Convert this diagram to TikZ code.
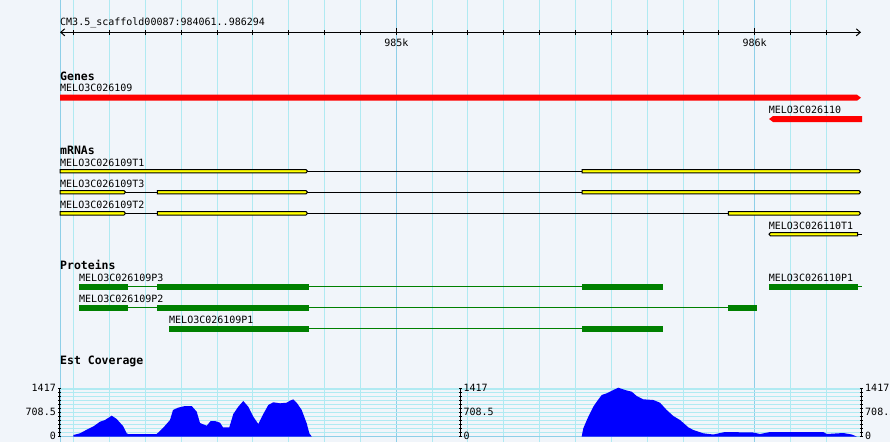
\documentclass[tikz,border=0pt]{standalone}
\usepackage{fontspec}
\usepackage{tikz}
\usetikzlibrary{arrows.meta}
\newfontfamily\gbmono{DejaVu Sans Mono}
\definecolor{gbback}{HTML}{F1F5FA}
\definecolor{gbgrid}{HTML}{B0EAF2}
\definecolor{gbmajor}{HTML}{8ECFE8}
\definecolor{gbgreen}{HTML}{008000}
\definecolor{gbblue}{HTML}{0000FF}
\definecolor{gbred}{HTML}{FF0000}
\definecolor{gbyellow}{HTML}{FFFF00}
\newcommand{\fexon}[3]{\filldraw[mrna] (#1,#3-1.7) -- (#2,#3-1.7) -- (#2+1.5,#3) -- (#2,#3+1.7) -- (#1,#3+1.7) -- cycle;}
\newcommand{\rexon}[3]{\filldraw[mrna] (#1+1.5,#3-1.7) -- (#2,#3-1.7) -- (#2,#3+1.7) -- (#1+1.5,#3+1.7) -- (#1,#3) -- cycle;}
\newcommand{\cds}[3]{\fill[prot] (#1,#3-2.85) rectangle (#2,#3+2.85);}

\begin{document}
\begin{tikzpicture}[x=1pt,y=-1pt,
    lbl/.style={font=\gbmono\fontsize{10}{10}\selectfont,inner sep=0pt,anchor=base west},
    trk/.style={font=\gbmono\bfseries\fontsize{11.5}{12}\selectfont,inner sep=0pt,anchor=base west},
    num/.style={font=\gbmono\fontsize{10}{10}\selectfont,inner sep=0pt},
    vgrid/.style={draw=gbgrid,line width=1pt},
    vmajor/.style={draw=gbmajor,line width=1pt},
    ruler/.style={draw=black,line width=1pt,<->,>={Straight Barb[length=4pt,width=7pt]}},
    tickmark/.style={draw=black,line width=1pt},
    gene/.style={fill=gbred},
    mrna/.style={fill=gbyellow,draw=black,line width=1pt},
    intron/.style={draw=black,line width=1pt},
    prot/.style={fill=gbgreen},
    link/.style={draw=gbgreen,line width=1pt},
    cov/.style={fill=gbblue},
    axisline/.style={draw=black,line width=1pt}]
  \fill[gbback] (0,0) rectangle (890,442);
  \useasboundingbox (0,0) rectangle (890,442);
  \foreach \k in {-9,...,12}
    \draw[vgrid] (396.3+35.84*\k,0) -- (396.3+35.84*\k,442);
  \foreach \x in {60,396.3,754.7}
    \draw[vmajor] (\x,0) -- (\x,442);
  \foreach \y in {392,396,...,432}
    \draw[vgrid] (60,\y) -- (861,\y);
  \draw[vgrid,line width=2pt] (60,388.7) -- (861,388.7);
  \draw[vmajor] (60,436.5) -- (861,436.5);

  \node[lbl]                (scaf)  at (60,25.5)    {CM3.5\_scaffold00087:984061..986294};
  \coordinate               (rl)    at (60,32.3);
  \coordinate               (rr)    at (861,32.3);
  \draw[ruler] (rl) -- (rr);
  \foreach \k in {-9,...,12}
    \draw[tickmark] (396.3+35.84*\k,30.3) -- (396.3+35.84*\k,34.8);
  \draw[tickmark] (396.3,28) -- (396.3,34.8);
  \draw[tickmark] (754.7,28) -- (754.7,34.8);
  \node[lbl,anchor=base]    (k985)  at (396.3,46.5) {985k};
  \node[lbl,anchor=base]    (k986)  at (754.7,46.5) {986k};

  \node[trk]                (genes) at (60,80)      {Genes};
  \node[lbl]                (g109)  at (60,91.7)    {MELO3C026109};
  \node[lbl]                (g110)  at (768.7,113)  {MELO3C026110};
  \fill[gene] (60,94.7) -- (857,94.7) -- (861,97.7) -- (857,100.7) -- (60,100.7) -- cycle;
  \fill[gene] (773,116) -- (862,116) -- (862,122) -- (773,122) -- (769,119) -- cycle;

  \node[trk]                (mrnas) at (60,154.3)   {mRNAs};
  \node[lbl]                (t1)    at (60,166)     {MELO3C026109T1};
  \node[lbl]                (t3)    at (60,187.3)   {MELO3C026109T3};
  \node[lbl]                (t2)    at (60,208.7)   {MELO3C026109T2};
  \node[lbl]                (t110)  at (768.7,229)  {MELO3C026110T1};
  \draw[intron] (306,171.2) -- (582,171.2);
  \fexon{60}{306}{171.2}
  \fexon{582}{859}{171.2}
  \draw[intron] (124,192.2) -- (582,192.2);
  \fexon{60}{124}{192.2}
  \fexon{157.3}{306}{192.2}
  \fexon{582}{859}{192.2}
  \draw[intron] (124,213.3) -- (728.3,213.3);
  \fexon{60}{124}{213.3}
  \fexon{157.3}{306}{213.3}
  \fexon{728.3}{859}{213.3}
  \draw[intron] (857.7,234.2) -- (862,234.2);
  \rexon{769}{857.7}{234.2}

  \node[trk]                (prots) at (60,269.3)   {Proteins};
  \node[lbl]                (p3)    at (79,281)     {MELO3C026109P3};
  \node[lbl]                (p2)    at (79,302)     {MELO3C026109P2};
  \node[lbl]                (p1)    at (169,323.7)  {MELO3C026109P1};
  \node[lbl]                (p110)  at (768.7,281)  {MELO3C026110P1};
  \draw[link] (128,286.9) -- (582.3,286.9);
  \cds{79}{128}{286.9}
  \cds{157}{309}{286.9}
  \cds{582.3}{663}{286.9}
  \draw[link] (128,307.8) -- (728.3,307.8);
  \cds{79}{128}{307.8}
  \cds{157}{309}{307.8}
  \cds{728.3}{757}{307.8}
  \draw[link] (309,328.8) -- (582.3,328.8);
  \cds{169}{309}{328.8}
  \cds{582.3}{663}{328.8}
  \draw[link] (857.7,286.9) -- (862,286.9);
  \cds{769}{857.7}{286.9}

  \node[trk]                (estcov) at (60,364.3)  {Est Coverage};
  \fill[cov] (73.3,436.5) -- (73.3,435) -- (80,433.3) -- (88,429) -- (94,426) -- (100,421.7)
    -- (105,420) -- (111.7,415.7) -- (116.7,419) -- (123,426) -- (126.7,433.3) -- (128,434)
    -- (156.7,434) -- (163,428) -- (170,420) -- (173,410) -- (178,407.7) -- (185,406)
    -- (191.7,406) -- (196.7,411.7) -- (200,423) -- (206.7,425.7) -- (210.7,421) -- (215,421)
    -- (220,422.7) -- (223,427.3) -- (229.3,427.3) -- (233.3,414) -- (238.3,406.7) -- (243.3,401)
    -- (248.3,406.7) -- (253.3,416.7) -- (258.3,424) -- (263.3,414) -- (268.3,405) -- (273.3,402.3)
    -- (280,403.3) -- (286.7,402.7) -- (290,400.7) -- (293.3,399.3) -- (296.7,402.7) -- (301.7,410)
    -- (306.7,423.3) -- (309.3,433.3) -- (311.7,436.5) -- cycle;
  \fill[cov] (581.7,436.5) -- (583.3,428.3) -- (588.3,416.7) -- (593.3,406.7) -- (596.7,401.7)
    -- (601.7,395) -- (606.7,393.3) -- (613.3,390) -- (618.3,387.7) -- (625,390) -- (631.7,391.7)
    -- (636.7,396) -- (643.3,399.3) -- (653.3,400) -- (660,402.7) -- (666.7,410) -- (673.3,416)
    -- (680,420) -- (688.3,427.3) -- (693.3,430) -- (703.3,433.3) -- (713.3,434.5) -- (725,432)
    -- (753.3,432.5) -- (760,434) -- (770,432) -- (823.3,432) -- (826.7,434) -- (843.3,433)
    -- (851.7,434.5) -- (856.7,436.5) -- cycle;
  \foreach \ax in {59.5,460.5,861.3} {
    \draw[axisline] (\ax,388) -- (\ax,436.5);
    \foreach \y in {388,392,...,436}
      \draw[axisline] (\ax-1.5,\y) -- (\ax+1.5,\y);
  }
  \node[num,anchor=east]    (ya1)   at (56,388)     {1417};
  \node[num,anchor=east]    (ya2)   at (56,412)     {708.5};
  \node[num,anchor=east]    (ya3)   at (56,436.3)   {0};
  \node[num,anchor=west]    (yb1)   at (463.3,388)  {1417};
  \node[num,anchor=west]    (yb2)   at (463.3,412)  {708.5};
  \node[num,anchor=west]    (yb3)   at (463.3,436.3) {0};
  \node[num,anchor=west]    (yc1)   at (865,388)    {1417};
  \node[num,anchor=west]    (yc2)   at (865,412)    {708.5};
  \node[num,anchor=west]    (yc3)   at (865,436.3)  {0};
\end{tikzpicture}
\end{document}
